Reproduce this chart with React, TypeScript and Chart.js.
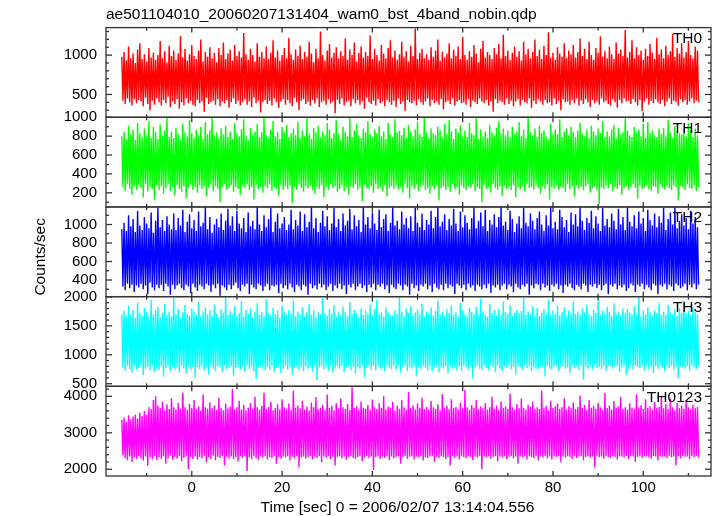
import React, { useEffect, useRef } from 'react';
import { Chart, registerables } from 'chart.js';

Chart.register(...registerables);

const TITLE = 'ae501104010_20060207131404_wam0_bst_4band_nobin.qdp';
const X_TITLE = 'Time [sec] 0 = 2006/02/07 13:14:04.556';
const Y_TITLE = 'Counts/sec';

// time bins (alternating bin maxima / minima)
const T_START = -15.5;
const T_STEP = 0.25;

const TH0 = [
  980, 420, 1040, 380, 930, 450, 1110, 400, 960, 360, 1020, 440, 900, 390, 1070, 430,
  1150, 410, 950, 350, 1010, 460, 920, 380, 1090, 300, 970, 420, 1030, 370, 940, 450,
  1000, 400, 1180, 360, 960, 430, 1050, 390, 910, 470, 1120, 340, 990, 410, 1060, 380,
  940, 440, 1020, 320, 1240, 400, 970, 360, 1080, 450, 930, 390, 1010, 420, 1130, 370,
  990, 350, 950, 430, 1060, 390, 1200, 410, 920, 280, 1040, 460, 980, 380, 1100, 400,
  960, 420, 1030, 370, 910, 440, 1090, 350, 1000, 410, 1160, 390, 950, 430, 1020, 330,
  1070, 400, 930, 450, 1130, 380, 990, 420, 1050, 360, 970, 400, 1280, 440, 1010, 370,
  940, 410, 1080, 340, 1000, 460, 920, 390, 1150, 420, 980, 270, 1040, 400, 960, 430,
  1110, 380, 950, 420, 1030, 360, 1190, 450, 970, 400, 1060, 330, 930, 410, 1000, 440,
  1090, 370, 960, 430, 1220, 390, 1010, 350, 940, 460, 1070, 400, 990, 300, 1120, 420,
  950, 440, 1040, 380, 980, 410, 1170, 360, 1020, 430, 910, 390, 1080, 450, 960, 340,
  1300, 400, 1000, 420, 930, 370, 1060, 440, 1140, 390, 970, 410, 1030, 260, 1100, 430,
  960, 380, 1050, 450, 990, 360, 1210, 400, 940, 420, 1070, 350, 1000, 440, 1160, 390,
  920, 430, 1030, 370, 1110, 410, 970, 320, 1040, 460, 990, 400, 1250, 380, 950, 420,
  1080, 360, 1000, 440, 930, 390, 1130, 410, 1020, 350, 960, 430, 1090, 400, 1190, 370,
  970, 420, 1060, 340, 940, 450, 1010, 380, 1170, 410, 980, 290, 1050, 430, 920, 400,
  1120, 390, 990, 420, 1340, 360, 950, 440, 1030, 400, 1080, 370, 960, 410, 1010, 450,
  940, 350, 1100, 430, 980, 390, 1060, 410, 1200, 370, 930, 440, 1040, 310, 970, 400,
  1020, 420, 1150, 380, 960, 450, 1070, 360, 990, 410, 1110, 430, 950, 390, 1230, 400,
  1000, 370, 940, 440, 1050, 340, 980, 420, 1130, 400, 1020, 380, 910, 450, 1080, 410,
  1180, 390, 970, 430, 1040, 360, 1000, 410, 950, 280, 1090, 440, 1010, 390, 1140, 420,
  960, 400, 1260, 370, 990, 450, 1060, 380, 940, 420, 1030, 350, 1110, 410, 980, 440,
  1050, 360, 930, 430, 1170, 400, 1010, 390, 1080, 450, 960, 330, 1040, 420, 1200, 380,
  990, 440, 1070, 410, 950, 370, 1120, 430, 1000, 390, 1290, 400, 970, 360, 1030, 450,
  940, 380, 1100, 420, 1020, 300, 980, 440, 1150, 400, 960, 410, 1060, 370, 1010, 430,
  1130, 390, 970, 450, 1040, 360, 1210, 420, 990, 380, 1080, 440, 950, 400, 1170, 340,
  1000, 430, 940, 390, 1090, 410, 1030, 370, 1240, 450, 980, 400, 1050, 420, 960, 380,
  1110, 360, 1010, 440, 950, 400, 1160, 330, 1020, 430, 1070, 390, 990, 450, 1320, 410,
  970, 420, 1040, 380, 1190, 440, 960, 400, 1100, 360, 1000, 430, 1060, 290, 940, 410,
  1080, 450, 990, 370, 1140, 420, 1030, 390, 950, 440, 1220, 400, 1010, 380, 1070, 430,
  960, 350, 1120, 410, 1000, 450, 1050, 380, 1270, 420, 980, 400, 1090, 360, 1020, 440,
  1150, 400, 970, 430, 1040, 370, 1180, 410, 1000, 450, 960, 390, 1110, 420, 1060, 400,
];

const TH1 = [
  800, 260, 850, 220, 770, 290, 910, 240, 820, 180, 870, 270, 760, 230, 940, 280,
  830, 250, 790, 150, 880, 290, 810, 210, 960, 260, 780, 240, 900, 120, 840, 280,
  770, 230, 920, 270, 810, 190, 860, 250, 1000, 290, 790, 220, 850, 260, 780, 170,
  890, 280, 820, 240, 760, 210, 930, 270, 840, 140, 800, 250, 970, 290, 830, 230,
  780, 260, 870, 200, 810, 280, 900, 240, 770, 270, 950, 160, 820, 250, 860, 290,
  990, 220, 800, 270, 840, 240, 780, 100, 880, 260, 820, 290, 910, 230, 790, 250,
  850, 280, 770, 210, 940, 260, 830, 240, 800, 180, 870, 270, 980, 250, 810, 290,
  760, 230, 890, 260, 820, 130, 850, 280, 930, 240, 790, 260, 840, 200, 1000, 270,
  810, 250, 780, 290, 870, 220, 960, 260, 800, 240, 850, 170, 770, 280, 900, 230,
  840, 270, 920, 240, 790, 280, 830, 90, 880, 260, 810, 230, 950, 290, 780, 250,
  860, 210, 800, 270, 990, 250, 820, 280, 770, 230, 890, 190, 840, 260, 910, 240,
  790, 280, 850, 150, 810, 260, 940, 230, 870, 290, 780, 250, 830, 270, 970, 210,
  820, 240, 760, 280, 900, 220, 850, 260, 800, 180, 1000, 270, 790, 250, 860, 290,
  930, 230, 810, 260, 780, 110, 880, 280, 840, 250, 960, 240, 820, 270, 790, 200,
  870, 290, 830, 240, 910, 260, 800, 220, 850, 280, 770, 160, 940, 250, 820, 270,
  790, 240, 980, 280, 840, 230, 860, 260, 810, 200, 890, 290, 780, 250, 920, 140,
  850, 270, 800, 240, 870, 290, 950, 220, 820, 260, 790, 280, 1000, 230, 840, 250,
  780, 190, 880, 270, 830, 240, 810, 280, 900, 120, 860, 250, 790, 270, 930, 230,
  820, 260, 970, 210, 850, 290, 770, 240, 880, 260, 840, 180, 910, 280, 800, 250,
  860, 230, 790, 270, 940, 250, 830, 290, 810, 220, 990, 260, 770, 240, 870, 100,
  800, 280, 850, 240, 780, 260, 920, 200, 840, 290, 810, 250, 890, 230, 960, 270,
  830, 170, 880, 280, 810, 240, 860, 260, 790, 230, 900, 280, 820, 150, 850, 260,
  950, 240, 800, 270, 870, 220, 780, 290, 1000, 250, 840, 260, 810, 230, 880, 280,
  790, 250, 910, 190, 830, 270, 860, 240, 800, 290, 770, 130, 930, 260, 820, 240,
  870, 280, 820, 230, 980, 260, 790, 250, 850, 210, 880, 290, 810, 240, 900, 270,
  840, 160, 790, 280, 860, 240, 940, 260, 820, 230, 800, 270, 870, 290, 780, 200,
  910, 250, 850, 270, 810, 230, 880, 80, 830, 260, 960, 240, 790, 280, 850, 250,
  800, 290, 870, 220, 920, 260, 780, 240, 890, 280, 820, 180, 840, 250, 990, 270,
  860, 230, 810, 260, 790, 290, 900, 250, 840, 140, 870, 270, 800, 240, 930, 260,
  780, 280, 950, 240, 830, 220, 860, 270, 810, 260, 790, 190, 880, 290, 820, 250,
  890, 240, 800, 270, 970, 250, 840, 230, 780, 280, 910, 260, 850, 120, 830, 270,
  820, 260, 870, 230, 800, 290, 940, 250, 860, 240, 790, 280, 880, 220, 810, 260,
];

const TH2 = [
  950, 330, 1020, 290, 930, 360, 1100, 310, 980, 350, 1060, 270, 920, 340, 1150, 320,
  990, 360, 940, 300, 1080, 340, 1010, 250, 960, 370, 1130, 320, 910, 290, 1040, 350,
  1180, 310, 970, 350, 1050, 280, 930, 360, 1090, 330, 1000, 240, 950, 350, 1120, 300,
  940, 340, 1070, 360, 990, 310, 1160, 290, 920, 350, 1030, 330, 1110, 260, 960, 360,
  1050, 320, 930, 280, 1140, 350, 980, 330, 1020, 300, 1190, 360, 950, 340, 1080, 270,
  910, 350, 1000, 310, 1060, 360, 970, 230, 1120, 340, 940, 320, 1040, 290, 1170, 350,
  990, 300, 1090, 340, 930, 370, 1150, 310, 1010, 280, 960, 350, 1070, 330, 920, 360,
  1130, 250, 980, 350, 1040, 320, 950, 300, 1190, 360, 1000, 340, 930, 280, 1100, 330,
  970, 360, 1060, 290, 1180, 340, 920, 330, 1030, 350, 1120, 260, 960, 360, 1010, 310,
  1080, 340, 940, 300, 1000, 360, 1160, 320, 950, 270, 1050, 350, 990, 330, 1140, 290,
  930, 350, 1110, 330, 970, 240, 1030, 360, 1190, 310, 960, 340, 1070, 300, 920, 360,
  1020, 320, 1150, 350, 980, 290, 1090, 330, 940, 360, 1010, 280, 1180, 340, 970, 310,
  1060, 360, 930, 300, 1120, 340, 990, 250, 1040, 350, 1170, 320, 950, 360, 1100, 290,
  980, 330, 1050, 360, 920, 310, 1190, 340, 1000, 270, 1080, 350, 960, 320, 1130, 360,
  1010, 290, 940, 350, 1160, 330, 970, 360, 1060, 300, 1110, 340, 930, 260, 1020, 350,
  1190, 320, 990, 300, 1040, 360, 950, 340, 1140, 290, 1000, 350, 1070, 330, 960, 240,
  1090, 360, 930, 310, 1180, 340, 1020, 280, 970, 350, 1120, 330, 940, 360, 1050, 300,
  1000, 340, 1150, 270, 960, 360, 1080, 320, 1190, 300, 980, 350, 1030, 290, 1110, 360,
  940, 310, 1060, 350, 990, 330, 1170, 250, 1010, 360, 930, 340, 1140, 310, 970, 350,
  1100, 290, 1020, 360, 950, 320, 1070, 340, 1190, 280, 960, 350, 1040, 330, 1130, 300,
  980, 350, 1160, 310, 930, 360, 1050, 260, 1000, 340, 1110, 320, 970, 350, 1080, 290,
  1190, 340, 990, 360, 1030, 300, 940, 350, 1150, 330, 1060, 270, 920, 360, 1010, 320,
  1090, 300, 960, 350, 1180, 330, 1020, 360, 980, 240, 1120, 340, 1040, 310, 950, 360,
  1070, 350, 1140, 290, 1000, 360, 930, 320, 1100, 340, 990, 280, 1190, 350, 960, 330,
  1030, 360, 950, 300, 1160, 340, 1080, 260, 970, 350, 1050, 330, 920, 360, 1130, 310,
  1000, 290, 1110, 350, 980, 330, 1190, 300, 1040, 360, 940, 340, 1070, 270, 1020, 350,
  1150, 330, 960, 360, 1090, 310, 1010, 350, 930, 290, 1180, 340, 990, 360, 1060, 250,
  970, 350, 1120, 330, 1040, 360, 950, 300, 1170, 340, 1000, 320, 1080, 350, 940, 280,
  1190, 310, 1030, 360, 980, 340, 1100, 270, 960, 350, 1140, 330, 1010, 360, 1070, 300,
  930, 350, 1160, 320, 1050, 290, 990, 360, 1120, 340, 970, 250, 1090, 350, 1020, 330,
  1180, 360, 940, 300, 1060, 350, 1130, 330, 1000, 280, 1190, 360, 960, 340, 1040, 310,
  1110, 330, 990, 360, 1070, 290, 950, 350, 1150, 320, 1010, 360, 1080, 300, 970, 350,
];

const TH3 = [
  1700, 780, 1760, 720, 1660, 800, 1850, 750, 1690, 690, 1780, 810, 1640, 740, 1900, 770,
  1720, 800, 1680, 650, 1810, 760, 1740, 790, 1660, 730, 1950, 810, 1700, 700, 1770, 760,
  1830, 740, 1650, 800, 1720, 620, 1880, 770, 1690, 810, 1750, 720, 1670, 790, 1990, 750,
  1700, 780, 1790, 700, 1640, 810, 1730, 760, 1860, 680, 1710, 800, 1680, 740, 1800, 790,
  1750, 600, 1690, 780, 1920, 750, 1660, 810, 1740, 730, 1820, 790, 1700, 660, 1770, 800,
  1680, 760, 1870, 720, 1710, 800, 1650, 780, 1790, 700, 1730, 810, 2000, 750, 1690, 770,
  1760, 800, 1700, 640, 1840, 770, 1670, 790, 1720, 740, 1930, 800, 1660, 720, 1780, 810,
  1710, 750, 1800, 790, 1650, 710, 1750, 580, 1890, 780, 1690, 800, 1740, 760, 1670, 730,
  1960, 790, 1720, 750, 1680, 810, 1810, 700, 1700, 770, 1760, 800, 1640, 680, 1850, 760,
  1730, 810, 1690, 740, 1780, 790, 1710, 650, 1940, 770, 1670, 800, 1750, 730, 1700, 790,
  1820, 720, 1660, 800, 1740, 760, 1880, 790, 1690, 710, 1770, 810, 1650, 560, 1730, 780,
  1700, 800, 1980, 750, 1720, 790, 1680, 730, 1790, 810, 1710, 690, 1860, 770, 1660, 800,
  1750, 760, 1690, 810, 1830, 700, 1740, 780, 1670, 800, 1910, 740, 1700, 790, 1780, 670,
  1720, 790, 1650, 760, 1800, 810, 1690, 620, 1760, 770, 1710, 800, 1870, 740, 1680, 810,
  1790, 730, 1950, 800, 1700, 760, 1740, 790, 1660, 710, 1820, 810, 1730, 770, 1690, 750,
  1680, 810, 1770, 740, 1710, 800, 2000, 690, 1750, 780, 1670, 810, 1800, 720, 1720, 790,
  1840, 760, 1690, 800, 1730, 640, 1780, 790, 1700, 750, 1880, 810, 1660, 770, 1750, 730,
  1710, 800, 1820, 720, 1680, 790, 1760, 810, 1940, 700, 1700, 780, 1740, 760, 1670, 800,
  1790, 680, 1720, 810, 1850, 760, 1690, 790, 1730, 740, 1660, 800, 1900, 720, 1770, 810,
  1700, 790, 1680, 750, 1810, 800, 1740, 590, 1710, 780, 1830, 810, 1690, 760, 1970, 740,
  1750, 810, 1700, 770, 1660, 730, 1880, 800, 1720, 790, 1770, 700, 1680, 810, 1800, 760,
  1690, 720, 1920, 800, 1740, 780, 1710, 810, 1860, 750, 1670, 790, 1730, 660, 1780, 800,
  1720, 790, 1760, 740, 1990, 810, 1690, 770, 1750, 800, 1700, 720, 1840, 790, 1680, 760,
  1810, 750, 1670, 800, 1730, 790, 1790, 630, 1710, 810, 1950, 760, 1690, 740, 1760, 800,
  1700, 810, 1850, 720, 1680, 790, 1740, 800, 1820, 760, 1660, 780, 1770, 690, 1720, 810,
  1930, 770, 1710, 800, 1750, 740, 1690, 810, 1800, 570, 1730, 790, 1870, 760, 1700, 800,
  1680, 740, 1780, 810, 1720, 770, 1960, 790, 1690, 750, 1760, 800, 1710, 720, 1830, 810,
  1740, 800, 1670, 760, 1890, 790, 1700, 810, 1750, 700, 1680, 780, 1800, 810, 1720, 650,
  1790, 760, 1730, 800, 1690, 740, 1840, 810, 1710, 790, 2000, 770, 1660, 800, 1760, 730,
  1700, 810, 1820, 750, 1740, 790, 1680, 680, 1770, 800, 1720, 760, 1900, 810, 1690, 780,
  1750, 720, 1690, 800, 1860, 770, 1730, 810, 1700, 740, 1790, 790, 1670, 600, 1810, 800,
  1720, 790, 1940, 760, 1710, 800, 1760, 730, 1690, 810, 1830, 780, 1740, 750, 1700, 800,
];

const TH0123 = [
  3350, 2380, 3420, 2300, 3300, 2250, 3480, 2350, 3380, 2200, 3450, 2320, 3500, 2280, 3400, 2360,
  3550, 2300, 3460, 2240, 3600, 2350, 3500, 2100, 3700, 2320, 3650, 2280, 3900, 2360, 4000, 2250,
  3750, 2330, 3680, 2280, 3850, 2350, 3620, 2150, 3780, 2300, 3650, 2370, 3950, 2260, 3700, 2340,
  3640, 2290, 3820, 2360, 3660, 2220, 4100, 2310, 3700, 2350, 3630, 2000, 3790, 2330, 3680, 2280,
  3900, 2350, 3650, 2270, 3730, 2340, 3610, 2300, 4050, 2360, 3700, 2190, 3660, 2330, 3840, 2280,
  3680, 2370, 3750, 2250, 3630, 2340, 3960, 2310, 3690, 2360, 3620, 2100, 3800, 2330, 3670, 2290,
  3720, 2350, 4200, 2280, 3650, 2340, 3700, 2210, 3880, 2360, 3640, 2310, 3760, 2350, 3610, 1950,
  3690, 2330, 3820, 2280, 3660, 2360, 3990, 2300, 3700, 2250, 3630, 2350, 3740, 2320, 4100, 2360,
  3650, 2270, 3710, 2340, 3850, 2310, 3620, 2360, 3680, 2150, 3780, 2330, 3640, 2290, 3920, 2350,
  3700, 2320, 3660, 2360, 3800, 2240, 3630, 2340, 4150, 2300, 3690, 2360, 3750, 2050, 3670, 2330,
  3880, 2350, 3640, 2290, 3720, 2340, 3610, 2360, 3830, 2270, 3700, 2330, 3980, 2310, 3650, 2360,
  3690, 2200, 3760, 2350, 3630, 2320, 4050, 2360, 3680, 2280, 3740, 2340, 3620, 2100, 3810, 2330,
  3670, 2360, 3940, 2300, 3700, 2350, 3650, 2260, 3790, 2340, 3620, 2360, 4250, 2310, 3680, 2290,
  3730, 2340, 3640, 2360, 3860, 2220, 3690, 2330, 3660, 2360, 3770, 2300, 3630, 2350, 3910, 1980,
  3700, 2330, 3650, 2360, 3820, 2290, 3680, 2340, 4000, 2310, 3640, 2360, 3720, 2250, 3690, 2350,
  3850, 2300, 3620, 2340, 3740, 2360, 3660, 2150, 3890, 2330, 3700, 2360, 3630, 2290, 4120, 2340,
  3680, 2360, 3750, 2270, 3640, 2350, 3800, 2320, 3690, 2360, 3960, 2240, 3650, 2340, 3710, 2310,
  3630, 2350, 3870, 2360, 3700, 2200, 3660, 2340, 3780, 2300, 3620, 2360, 4060, 2330, 3690, 2280,
  3740, 2340, 3650, 2100, 3920, 2360, 3680, 2310, 3710, 2350, 3640, 2270, 3830, 2360, 3670, 2330,
  4180, 2300, 3700, 2360, 3630, 2340, 3760, 2250, 3690, 2350, 3900, 2320, 3650, 2360, 3720, 2000,
  3680, 2350, 3810, 2330, 3640, 2360, 3700, 2290, 3990, 2340, 3660, 2360, 3750, 2210, 3630, 2350,
  3860, 2320, 3690, 2360, 3720, 2280, 3650, 2340, 4080, 2360, 3700, 2300, 3640, 2350, 3790, 2150,
  3670, 2360, 3940, 2330, 3680, 2350, 3630, 2270, 3770, 2360, 3710, 2340, 3850, 2310, 3660, 2360,
  3700, 2240, 3650, 2350, 4150, 2330, 3690, 2360, 3740, 2300, 3620, 2350, 3880, 2270, 3680, 2360,
  3720, 2340, 3800, 2360, 3660, 2190, 3700, 2350, 3950, 2320, 3640, 2360, 3730, 2340, 3690, 2280,
  3840, 2360, 3650, 2310, 3710, 2350, 4020, 2360, 3680, 2250, 3760, 2340, 3630, 2360, 3900, 2320,
  3690, 2350, 3740, 2050, 3660, 2360, 3820, 2330, 3700, 2350, 3640, 2290, 4100, 2360, 3680, 2340,
  3750, 2310, 3630, 2360, 3870, 2340, 3690, 2270, 3720, 2360, 3980, 2350, 3660, 2320, 3700, 2360,
  3640, 2280, 3810, 2360, 3690, 2350, 3660, 2200, 4060, 2340, 3700, 2360, 3760, 2310, 3650, 2350,
  3920, 2360, 3680, 2330, 3730, 2290, 3640, 2360, 3850, 2350, 3690, 2240, 3710, 2360, 4000, 2340,
  3670, 2350, 3780, 2310, 3650, 2360, 3940, 2330, 3700, 2350, 3630, 2100, 3820, 2360, 3680, 2300,
  3740, 2360, 3660, 2340, 3890, 2350, 3700, 2280, 3650, 2360, 3770, 2330, 3690, 2360, 3710, 2320,
];

const SERIES = [TH0, TH1, TH2, TH3, TH0123];
const PANEL_NAMES = ['TH0', 'TH1', 'TH2', 'TH3', 'TH0123'];
const PANEL_COLORS = ['#ff0000', '#00ff00', '#0000ff', '#00ffff', '#ff00ff'];
const Y_MIN = [210, 50, 220, 455, 1815];
const Y_MAX = [1350, 1000, 1190, 2005, 4275];
const Y_MAJOR = [
  [500, 1000],
  [200, 400, 600, 800, 1000],
  [400, 600, 800, 1000],
  [500, 1000, 1500, 2000],
  [2000, 3000, 4000],
];
const Y_MINOR_STEP = [100, 100, 100, 100, 200];

const X_MIN = -19;
const X_MAX = 115;
const X_MAJOR = [0, 20, 40, 60, 80, 100];
const X_MINOR_STEP = 10;

const FONT = '"Liberation Sans", Arial, sans-serif';

const framePlugin = {
  id: 'qdpFrames',
  afterDatasetsDraw(chart: any) {
    const ctx = chart.ctx as CanvasRenderingContext2D;
    const xs = chart.scales.x;
    const left = xs.left;
    const right = xs.right;
    ctx.save();
    ctx.strokeStyle = '#333';
    ctx.lineWidth = 1.3;
    const seg = (x1: number, y1: number, x2: number, y2: number) => {
      ctx.beginPath();
      ctx.moveTo(x1, y1);
      ctx.lineTo(x2, y2);
      ctx.stroke();
    };
    PANEL_NAMES.forEach((name, i) => {
      const ys = chart.scales['y' + i];
      const top = ys.top;
      const bottom = ys.bottom;
      ctx.strokeRect(left, top, right - left, bottom - top);
      const step = Y_MINOR_STEP[i];
      for (let v = Math.ceil(ys.min / step) * step; v <= ys.max; v += step) {
        const y = ys.getPixelForValue(v);
        const len = Y_MAJOR[i].includes(v) ? 6 : 3;
        seg(left, y, left + len, y);
        seg(right, y, right - len, y);
      }
      for (let v = Math.ceil(X_MIN / X_MINOR_STEP) * X_MINOR_STEP; v <= X_MAX; v += X_MINOR_STEP) {
        const x = xs.getPixelForValue(v);
        const len = X_MAJOR.includes(v) ? 5 : 3;
        seg(x, top, x, top + len);
        seg(x, bottom, x, bottom - len);
      }
      ctx.fillStyle = '#000';
      ctx.font = '15.5px ' + FONT;
      ctx.textAlign = 'right';
      ctx.textBaseline = 'middle';
      ctx.fillText(name, right - 9, top + 11);
    });
    const area = chart.chartArea;
    ctx.fillStyle = '#000';
    ctx.font = '15.5px ' + FONT;
    ctx.textAlign = 'center';
    ctx.textBaseline = 'middle';
    ctx.fillText(X_TITLE, (left + right) / 2 - 11, chart.height - 8.5);
    ctx.save();
    ctx.translate(41, (area.top + area.bottom) / 2 + 5);
    ctx.rotate(-Math.PI / 2);
    ctx.fillText(Y_TITLE, 0, 0);
    ctx.restore();
    ctx.restore();
  },
};

export default function App() {
  const canvasRef = useRef<HTMLCanvasElement | null>(null);

  useEffect(() => {
    if (!canvasRef.current) return;
    const datasets = SERIES.map((vals, i) => ({
      label: PANEL_NAMES[i],
      data: vals.map((v, k) => ({ x: T_START + k * T_STEP, y: v })),
      borderColor: PANEL_COLORS[i],
      backgroundColor: PANEL_COLORS[i],
      borderWidth: 1.4,
      pointRadius: 0,
      tension: 0,
      fill: false,
      yAxisID: 'y' + i,
    }));

    const scales: any = {
      x: {
        type: 'linear',
        position: 'bottom',
        min: X_MIN,
        max: X_MAX,
        grid: { display: false, drawTicks: false },
        border: { display: false },
        ticks: {
          color: '#000',
          font: { family: FONT, size: 15 },
          padding: 3,
          autoSkip: false,
          maxRotation: 0,
          callback: (v: any) => String(v),
        },
        afterBuildTicks: (scale: any) => {
          scale.ticks = X_MAJOR.map((v) => ({ value: v }));
        },
        afterFit: (scale: any) => {
          scale.height = 40;
        },
      },
    };
    PANEL_NAMES.forEach((_, i) => {
      scales['y' + i] = {
        type: 'linear',
        position: 'left',
        stack: 'panels',
        stackWeight: 1,
        weight: 5 - i,
        offset: false,
        min: Y_MIN[i],
        max: Y_MAX[i],
        grid: { display: false, drawTicks: false },
        border: { display: false },
        ticks: {
          color: '#000',
          font: { family: FONT, size: 15 },
          padding: 9,
          autoSkip: false,
          callback: (v: any) => String(v),
        },
        afterBuildTicks: (scale: any) => {
          scale.ticks = Y_MAJOR[i].map((v) => ({ value: v }));
        },
        afterFit: (scale: any) => {
          scale.width = 106;
        },
      };
    });

    const chart = new Chart(canvasRef.current, {
      type: 'line',
      data: { datasets },
      options: {
        responsive: false,
        animation: false,
        events: [],
        layout: { padding: { left: 0, right: 6, top: 0, bottom: 0 } },
        scales,
        plugins: {
          legend: { display: false },
          tooltip: { enabled: false },
          title: {
            display: true,
            text: TITLE,
            align: 'start',
            fullSize: false,
            color: '#000',
            font: { family: FONT, size: 15.5, weight: 'normal' },
            padding: { top: 5, bottom: 4 },
          },
        },
      } as any,
      plugins: [framePlugin],
    });
    return () => chart.destroy();
  }, []);

  return (
    <div style={{ position: 'fixed', left: 0, top: 0, width: 717, height: 516, background: '#fff' }}>
      <canvas ref={canvasRef} width={717} height={516} style={{ display: 'block' }} />
    </div>
  );
}
